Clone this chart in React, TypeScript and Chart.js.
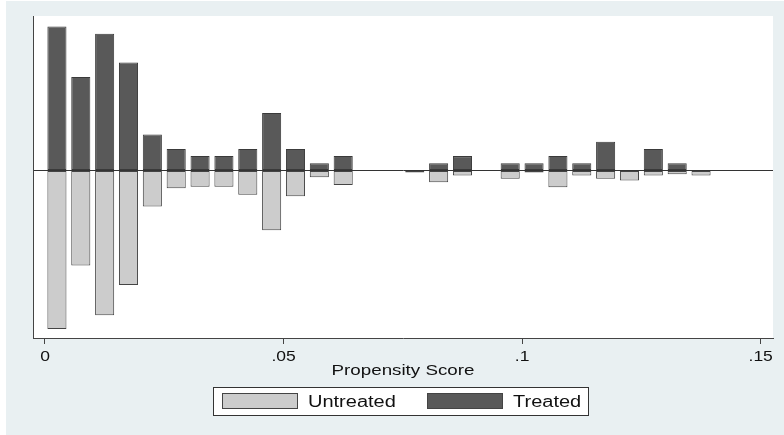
import React, { useEffect, useRef } from "react";
import { Chart, registerables } from "chart.js";

Chart.register(...registerables);

// ---- data ----
const binCenters = [
  0.0025, 0.0075, 0.0125, 0.0175, 0.0225, 0.0275, 0.0325, 0.0375, 0.0425, 0.0475,
  0.0525, 0.0575, 0.0625, 0.0675, 0.0725, 0.0775, 0.0825, 0.0875, 0.0925, 0.0975,
  0.1025, 0.1075, 0.1125, 0.1175, 0.1225, 0.1275, 0.1325, 0.1375,
];
const treated = [
  20, 13, 19, 15, 5, 3, 2, 2, 3, 8,
  3, 1, 2, 0, 0, 0, 1, 2, 0, 1,
  1, 2, 1, 4, 0, 3, 1, 0,
];
const untreated = [
  22.0, 13.2, 20.1, 15.9, 5.0, 2.47, 2.25, 2.25, 3.36, 8.3,
  3.58, 0.94, 2.0, 0, 0, 0.28, 1.62, 0.69, 0, 1.15,
  0.28, 2.32, 0.69, 1.15, 1.39, 0.69, 0.51, 0.69,
];
const xTickValues = [0, 0.05, 0.1, 0.15];
const xTickLabels = ["0", ".05", ".1", ".15"];
const xTitle = "Propensity Score";
const seriesNames = ["Untreated", "Treated"];

const FONT = '"Liberation Sans", Arial, Helvetica, sans-serif';
const STRETCH = 1.25;

function drawText(
  ctx: CanvasRenderingContext2D,
  text: string,
  x: number,
  y: number,
  size: number,
  align: CanvasTextAlign
) {
  ctx.save();
  ctx.font = `${size}px ${FONT}`;
  ctx.fillStyle = "#111";
  ctx.textAlign = align;
  ctx.textBaseline = "alphabetic";
  ctx.translate(x, y);
  ctx.scale(STRETCH, 1);
  ctx.fillText(text, 0, 0);
  ctx.restore();
}

const bgPlugin = {
  id: "stataBg",
  beforeDraw(chart: any) {
    const { ctx, chartArea } = chart;
    ctx.save();
    ctx.fillStyle = "#ffffff";
    ctx.fillRect(0, 0, chart.width, chart.height);
    ctx.fillStyle = "#E9F0F2";
    ctx.fillRect(6, 1, chart.width - 6, chart.height - 1);
    ctx.fillStyle = "#ffffff";
    ctx.fillRect(
      chartArea.left,
      chartArea.top,
      chartArea.right - chartArea.left,
      chartArea.bottom - chartArea.top
    );
    ctx.restore();
  },
};

const textPlugin = {
  id: "stataText",
  afterDraw(chart: any) {
    const { ctx, chartArea } = chart;
    const xs = chart.scales.x;
    xs.ticks.forEach((t: any) => {
      const px = xs.getPixelForValue(t.value);
      const idx = xTickValues.indexOf(t.value);
      drawText(ctx, idx >= 0 ? xTickLabels[idx] : String(t.value), px, 361, 14, "center");
    });
    const cx = (chartArea.left + chartArea.right) / 2;
    drawText(ctx, xTitle, cx, 375, 15, "center");

    // legend box
    ctx.save();
    ctx.fillStyle = "#ffffff";
    ctx.fillRect(213, 387, 375, 28);
    ctx.strokeStyle = "#333";
    ctx.lineWidth = 1;
    ctx.strokeRect(213.5, 387.5, 375, 28);
    const ds = chart.data.datasets;
    const items = [
      { d: ds[1], sx: 222, tx: 308 },
      { d: ds[0], sx: 427, tx: 513 },
    ];
    items.forEach((it) => {
      ctx.fillStyle = it.d.backgroundColor;
      ctx.fillRect(it.sx, 393, 75, 15);
      ctx.strokeStyle = "#444";
      ctx.strokeRect(it.sx + 0.5, 393.5, 75, 15);
      drawText(ctx, it.d.label, it.tx, 407, 16, "left");
    });
    ctx.restore();
  },
};

export default function App() {
  const ref = useRef<HTMLCanvasElement | null>(null);

  useEffect(() => {
    if (!ref.current) return;
    const chart = new Chart(ref.current, {
      type: "bar",
      data: {
        datasets: [
          {
            label: seriesNames[1],
            data: binCenters.map((x, i) => ({ x, y: treated[i] })),
            backgroundColor: "#595959",
            borderColor: "#3a3a3a",
            borderWidth: 1,
            borderSkipped: false,
          },
          {
            label: seriesNames[0],
            data: binCenters.map((x, i) => ({ x, y: -untreated[i] })),
            backgroundColor: "#CCCCCC",
            borderColor: "#444444",
            borderWidth: 1,
            borderSkipped: false,
          },
        ],
      },
      options: {
        responsive: false,
        animation: false,
        events: [],
        layout: { padding: { left: 33, top: 16, right: 11, bottom: 91 } },
        datasets: { bar: { barPercentage: 0.8, categoryPercentage: 1.0 } },
        plugins: { legend: { display: false }, tooltip: { enabled: false } },
        scales: {
          x: {
            type: "linear",
            stacked: true,
            offset: false,
            min: -0.002515,
            max: 0.15258,
            afterBuildTicks: (s: any) => {
              s.ticks = xTickValues.map((v) => ({ value: v }));
            },
            afterFit: (s: any) => {
              s.height = 6;
            },
            ticks: { display: false },
            grid: {
              offset: false,
              drawOnChartArea: false,
              drawTicks: true,
              tickLength: 6,
              color: "#444",
              lineWidth: 1,
            },
            border: { display: true, color: "#444", width: 1 },
          },
          y: {
            type: "linear",
            stacked: true,
            min: -23.26,
            max: 21.46,
            afterFit: (s: any) => {
              s.width = 0;
            },
            ticks: { display: false, stepSize: 5 },
            grid: {
              drawTicks: false,
              color: (c: any) => (c.tick && c.tick.value === 0 ? "#333" : "rgba(0,0,0,0)"),
              lineWidth: 1,
            },
            border: { display: true, color: "#444", width: 1 },
          },
        },
      },
      plugins: [bgPlugin, textPlugin],
    } as any);
    return () => chart.destroy();
  }, []);

  return (
    <div style={{ position: "absolute", left: 0, top: 0, width: 784, height: 435 }}>
      <canvas ref={ref} width={784} height={435} style={{ display: "block" }} />
    </div>
  );
}
